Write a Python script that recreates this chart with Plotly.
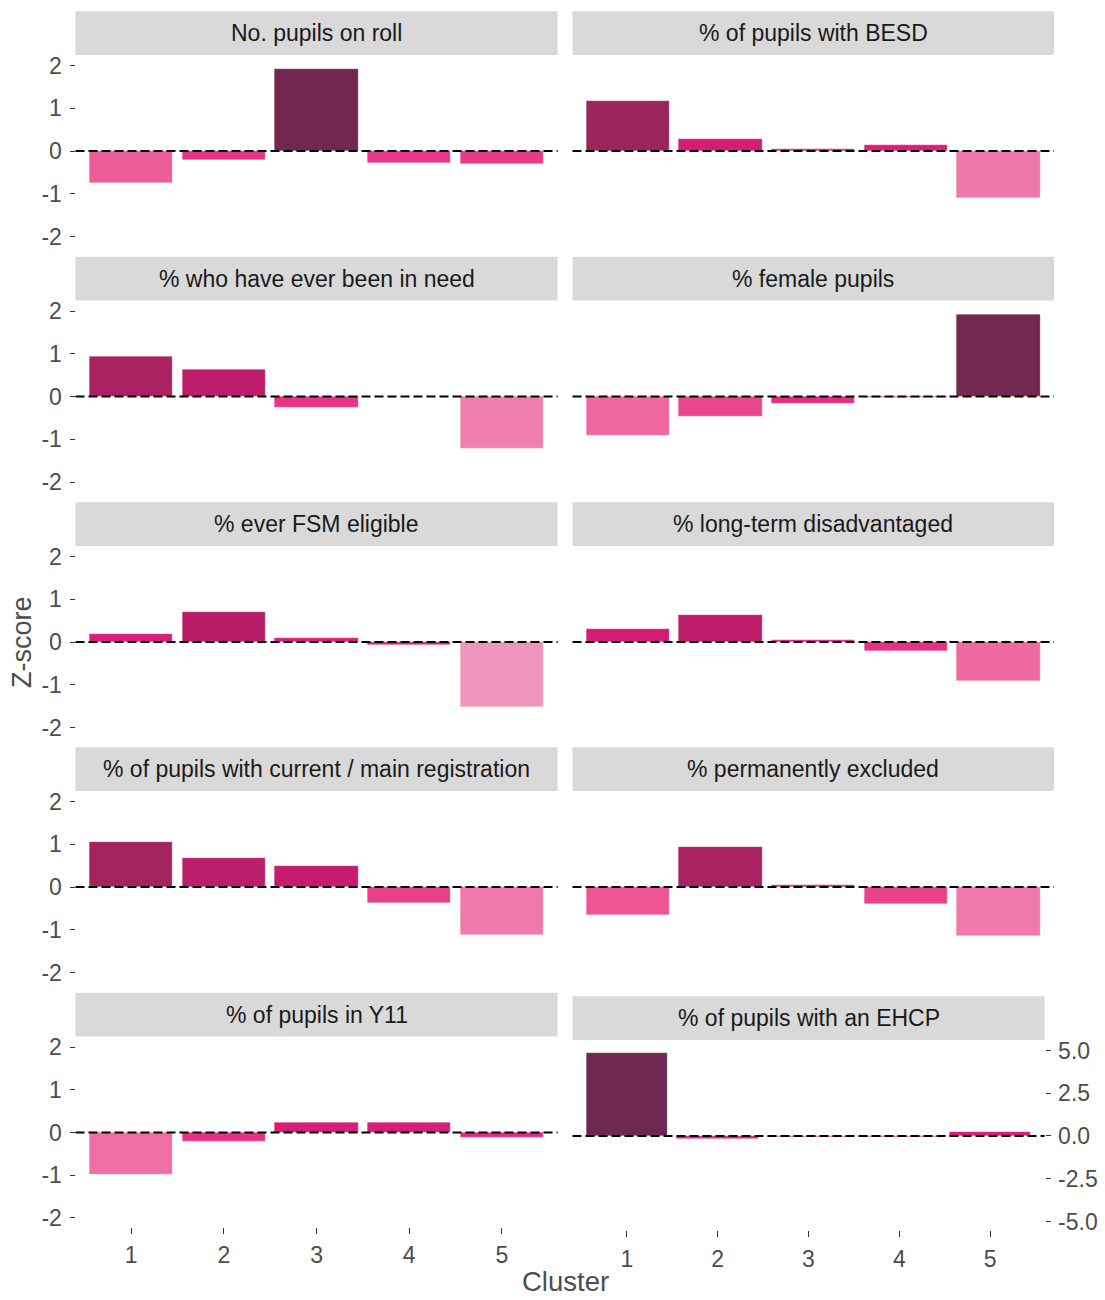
import plotly.graph_objects as go

# Cluster profiles: mean z-score of each school characteristic per cluster
clusters = [1, 2, 3, 4, 5]
tick_labels = ["1", "2", "3", "4", "5"]

metrics = [
    "No. pupils on roll",
    "% of pupils with BESD",
    "% who have ever been in need",
    "% female pupils",
    "% ever FSM eligible",
    "% long-term disadvantaged",
    "% of pupils with current / main registration",
    "% permanently excluded",
    "% of pupils in Y11",
    "% of pupils with an EHCP",
]

pupils_on_roll = [-0.75, -0.21, 1.93, -0.27, -0.31]
besd = [1.17, 0.27, 0.05, 0.13, -1.10]
ever_in_need = [0.93, 0.63, -0.25, -0.01, -1.22]
female = [-0.91, -0.47, -0.16, -0.02, 1.91]
ever_fsm = [0.19, 0.71, 0.09, -0.07, -1.52]
long_term_disadv = [0.31, 0.63, 0.05, -0.21, -0.91]
main_registration = [1.06, 0.67, 0.49, -0.38, -1.13]
perm_excluded = [-0.65, 0.94, 0.05, -0.39, -1.14]
year11 = [-0.99, -0.21, 0.23, 0.23, -0.12]
ehcp = [4.83, -0.18, -0.03, -0.03, 0.26]

series = [pupils_on_roll, besd, ever_in_need, female, ever_fsm,
          long_term_disadv, main_registration, perm_excluded, year11, ehcp]

z_ticks = [-2, -1, 0, 1, 2]
ehcp_ticks = [-5, -2.5, 0, 2.5, 5]
ehcp_tick_labels = ["-5.0", "-2.5", "0.0", "2.5", "5.0"]

# fill colour follows the z-score (clamped to -2..2)
pink_scale = [
    [0.0, "#F4B0CD"],
    [0.125, "#EF93BC"],
    [0.25, "#EF70A4"],
    [0.375, "#EB4B8D"],
    [0.5, "#E2207E"],
    [0.625, "#C61B6F"],
    [0.75, "#A5235F"],
    [0.875, "#892558"],
    [1.0, "#6E2750"],
]

W, H = 1105, 1300
FONT = "Liberation Sans, Arial, sans-serif"
TICK_COL = "#4D4D4D"
TICK_SIZE = 23

def px_x(p):
    return p / W

def px_y(p):
    return 1 - p / H

LEFT = (75.5, 557.6)
RIGHT = (572.5, 1054.0)
RIGHT_LAST = (572.5, 1044.5)
zero_rows = [148.0, 395.0, 642.0, 888.5, 1135.5]
HALF = 94.6

fig = go.Figure()
shapes = []
annotations = []

for i, (name, vals) in enumerate(zip(metrics, series)):
    row, col = divmod(i, 2)
    last = i == 9
    if col == 0:
        xl, xr = LEFT
    else:
        xl, xr = RIGHT_LAST if last else RIGHT
    zero = 1139.0 if last else zero_rows[row]
    top, bottom = zero - HALF, zero + HALF

    n = i + 1
    xa = "x" if n == 1 else f"x{n}"
    ya = "y" if n == 1 else f"y{n}"
    xkey = "xaxis" if n == 1 else f"xaxis{n}"
    ykey = "yaxis" if n == 1 else f"yaxis{n}"

    fig.add_trace(go.Bar(
        x=clusters, y=vals, width=0.9,
        marker=dict(color=vals, colorscale=pink_scale, cmin=-2, cmax=2,
                    line=dict(color="rgba(255,255,255,0.45)", width=0.6)),
        xaxis=xa, yaxis=ya, showlegend=False, hoverinfo="x+y",
    ))

    bottom_row = row == 4
    fig.layout[xkey] = dict(
        domain=[px_x(xl), px_x(xr)], anchor=ya, range=[0.4, 5.6],
        showgrid=False, zeroline=False, showline=False,
        tickmode="array", tickvals=clusters, ticktext=tick_labels,
        showticklabels=bottom_row, ticks="outside" if bottom_row else "",
        ticklen=6, tickwidth=1.3, tickcolor="#333333", ticklabelstandoff=2,
        tickfont=dict(family=FONT, size=TICK_SIZE, color=TICK_COL),
        fixedrange=True,
    )
    if last:
        yax = dict(range=[-5.5, 5.5], tickvals=ehcp_ticks, ticktext=ehcp_tick_labels,
                   side="right", showticklabels=True, ticks="outside")
    else:
        yax = dict(range=[-2.2, 2.2], tickvals=z_ticks, ticktext=[str(t) for t in z_ticks],
                   side="left", showticklabels=(col == 0),
                   ticks="outside" if col == 0 else "")
    yax.update(
        domain=[px_y(bottom), px_y(top)], anchor=xa, tickmode="array",
        showgrid=False, zeroline=False, showline=False,
        ticklen=5, tickwidth=1.3, tickcolor="#333333", ticklabelstandoff=3,
        tickfont=dict(family=FONT, size=TICK_SIZE, color=TICK_COL),
        fixedrange=True,
    )
    fig.layout[ykey] = yax

    # dashed reference line at zero, drawn over the bars
    shapes.append(dict(
        type="line", xref=f"{xa} domain", yref=ya, x0=0, x1=1, y0=0, y1=0,
        line=dict(color="#000000", width=2, dash="9px,4px"), layer="above",
    ))

    # facet strip
    s_top, s_bot = top - 46, top - 2
    shapes.append(dict(
        type="rect", xref="paper", yref="paper",
        x0=px_x(xl), x1=px_x(xr), y0=px_y(s_bot), y1=px_y(s_top),
        fillcolor="#D9D9D9", line=dict(width=0), layer="below",
    ))
    annotations.append(dict(
        text=name, xref="paper", yref="paper",
        x=(px_x(xl) + px_x(xr)) / 2, y=px_y((s_top + s_bot) / 2),
        xanchor="center", yanchor="middle", showarrow=False,
        font=dict(family=FONT, size=23, color="#1A1A1A"),
    ))

annotations.append(dict(
    text="Z-score", xref="paper", yref="paper", x=px_x(22), y=px_y(642),
    xanchor="center", yanchor="middle", textangle=-90, showarrow=False,
    font=dict(family=FONT, size=27, color="#4D4D4D"),
))
annotations.append(dict(
    text="Cluster", xref="paper", yref="paper", x=px_x(565), y=px_y(1285),
    xanchor="center", yanchor="middle", showarrow=False,
    font=dict(family=FONT, size=27.5, color="#4D4D4D"),
))

fig.update_layout(
    width=W, height=H, margin=dict(l=0, r=0, t=0, b=0),
    paper_bgcolor="white", plot_bgcolor="white",
    shapes=shapes, annotations=annotations, bargap=0,
    font=dict(family=FONT),
)

fig.write_html("out.html")
